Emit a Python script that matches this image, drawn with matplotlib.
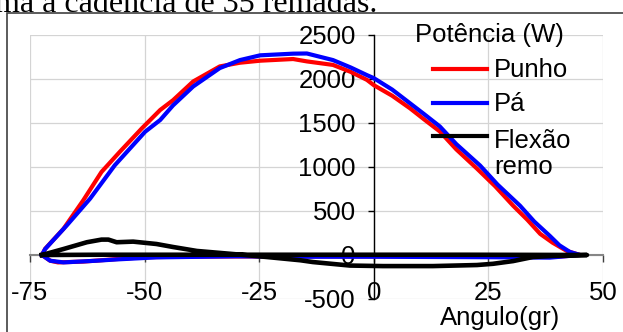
"""Potência no punho, na pá e flexão do remo vs ângulo
"""

import matplotlib
matplotlib.use("Agg")
import matplotlib.pyplot as plt
from matplotlib.lines import Line2D
from matplotlib.patches import Rectangle

# Punho (loop: drive then recovery)
punho_ang = [-72.4, -71.7, -67.7, -63.4, -59.4, -55.4, -50.6, -46.6, -43.8,
             -39.4, -33.6, -29.2, -24.8, -17.6, -14.6, -8.9, -5.0, -1.5, 0.0,
             4.0, 7.9, 11.0, 14.4, 18.0, 22.5, 26.5, 30.4, 33.5, 36.3, 39.0, 42.1, 45.0,
             40.0, 30.0, 20.0, 0.0, -20.0, -40.0, -50.0, -56.0, -63.4, -68.9, -70.6, -72.4]
punho_pot = [0, 70, 297, 620, 944, 1173, 1439, 1648, 1759,
             1972, 2143, 2185, 2208, 2227, 2200, 2160, 2080, 1990, 1930,
             1810, 1667, 1540, 1404, 1200, 982, 780, 560, 400, 240, 140, 46, 0,
             -20, -15, -15, -15, -15, -18, -25, -46, -75, -84, -65, 0]

# Pá
pa_ang = [-72.4, -71.7, -67.0, -61.9, -56.5, -49.9, -46.6, -43.8, -39.4,
          -33.6, -29.2, -24.8, -17.6, -14.6, -8.9, -5.0, -1.5, 0.0, 4.0,
          7.9, 11.0, 14.4, 18.0, 23.2, 27.0, 31.9, 35.0, 38.4, 40.5, 42.8, 45.0,
          38.4, 25.0, 0.0, -16.0, -30.0, -47.4, -56.0, -60.5, -67.7, -70.6, -72.4]
pa_pot = [0, 68, 335, 640, 1020, 1400, 1534, 1700, 1915,
          2124, 2215, 2269, 2288, 2290, 2215, 2130, 2044, 2010, 1880,
          1724, 1600, 1461, 1260, 1016, 800, 560, 380, 217, 110, 34, 0,
          -30, -25, -20, -20, -15, -27, -50, -65, -84, -65, 0]

# Flexão remo
flex_ang = [-72.4, -67.7, -62.6, -59.4, -57.9, -56.1, -52.5, -47.4, -43.8,
            -38.6, -30.7, -23.3, -16.0, -13.3, -5.2, 2.0, 12.9, 22.5, 26.0,
            30.4, 34.7, 39.0, 46.5,
            20.0, 0.0, -20.0, -40.0, -60.0, -72.4]
flex_pot = [0, 68, 145, 175, 175, 145, 152, 125, 91,
            46, 11, -23, -60, -80, -120, -126, -126, -114, -100,
            -69, -23, -11, 0,
            3, 3, 3, 3, 3, 0]

labels = ["Punho", "Pá", "Flexão\nremo"]
colors = ["#ff0000", "#0000ff", "#000000"]

W, H = 623, 332


def px(x, y):
    return x / W, 1 - y / H


plt.rcParams["font.family"] = ["Liberation Sans", "DejaVu Sans"]
plt.rcParams["axes.unicode_minus"] = False
FS = 18.5

fig = plt.figure(figsize=(W / 100, H / 100), dpi=100)
ax = fig.add_axes([30 / W, 1 - 299 / H, 573 / W, 264 / H])

ax.plot(punho_ang, punho_pot, color=colors[0], lw=3, zorder=3)
ax.plot(pa_ang, pa_pot, color=colors[1], lw=3, zorder=4)
ax.plot(flex_ang, flex_pot, color=colors[2], lw=3.3, zorder=5)

ax.set_xlim(-75, 50)
ax.set_ylim(-500, 2500)
ax.set_xticks([-75, -50, -25, 0, 25, 50])
ax.set_yticks(range(-500, 2501, 500))
ax.grid(True, color="#d4d4d4", lw=0.9, zorder=0)

ax.spines["top"].set_visible(False)
ax.spines["right"].set_visible(False)
ax.spines["left"].set_position(("data", 0))
ax.spines["bottom"].set_position(("data", 0))
ax.spines["left"].set_color("black")
ax.spines["left"].set_linewidth(1)
ax.spines["bottom"].set_color("#868686")
ax.spines["bottom"].set_linewidth(1.5)

ax.tick_params(axis="y", direction="out", length=4.5, width=1, pad=8.5,
               labelsize=FS, color="black")
ax.tick_params(axis="x", direction="out", length=5, width=1, pad=13.5,
               labelsize=FS, color="#404040")

# legend
fig.text(*px(415, 42), "Potência (W)", fontsize=FS, va="baseline", ha="left")
row_y = [69, 103, 136]
for lab, col, yy in zip(labels, colors, row_y):
    x0, y0 = px(433, yy)
    x1, _ = px(487, yy)
    fig.add_artist(Line2D([x0, x1], [y0, y0], color=col, lw=3))
    # baseline of the last line of the label
    nlines = lab.count("\n")
    fig.text(*px(494, yy + 8 + 30 * nlines), lab, fontsize=FS, va="baseline",
             ha="left", linespacing=1.1)

fig.text(*px(440, 325), "Angulo(gr)", fontsize=FS, va="baseline", ha="left")

# document text above the chart (cut off)
fig.text(*px(-5, 12), "ma a cadência de 35 remadas.", fontsize=23,
         family="Liberation Serif", va="baseline", ha="left")

# chart frame
fig.add_artist(Rectangle(px(7, 340), 1.2, (340 - 13) / H, transform=fig.transFigure,
                         fill=False, edgecolor="#404040", lw=1.2))

fig.savefig("out.png", dpi=100)
